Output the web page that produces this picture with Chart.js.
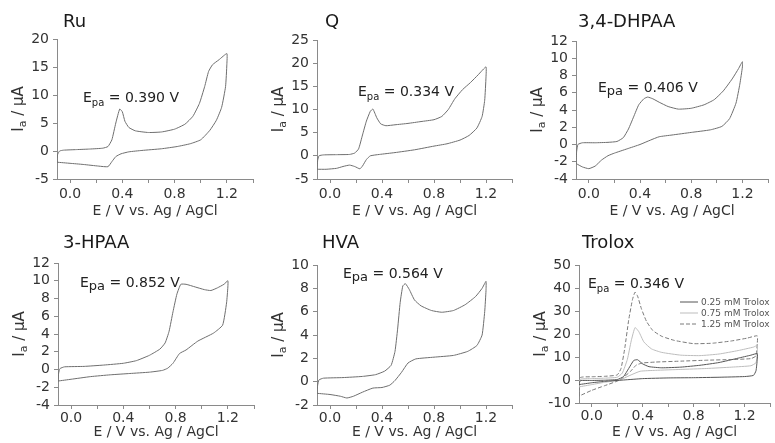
<!DOCTYPE html>
<html>
<head>
<meta charset="utf-8">
<script src="https://cdn.jsdelivr.net/npm/chart.js@4.4.1/dist/chart.umd.min.js"></script>
<style>
  body { margin: 0; background: #fff; width: 775px; height: 443px; position: relative; overflow: hidden; }
  canvas { position: absolute; }
</style>
</head>
<body>
<canvas id="ru" width="258" height="221" style="left:0;top:0"></canvas>
<canvas id="q" width="258" height="221" style="left:258px;top:0"></canvas>
<canvas id="dhpaa" width="258" height="221" style="left:517px;top:0"></canvas>
<canvas id="hpaa" width="258" height="221" style="left:0;top:222px"></canvas>
<canvas id="hva" width="258" height="221" style="left:258px;top:222px"></canvas>
<canvas id="trolox" width="258" height="221" style="left:517px;top:222px"></canvas>
<script>
// potential axis (V vs Ag/AgCl)
const xTickMarks = [0, 0.2, 0.4, 0.6, 0.8, 1.0, 1.2, 1.4];
const xTickLabels = [0, 0.4, 0.8, 1.2];

// Ru
const ruE = [-0.1, -0.095, -0.08, -0.05, 0.05, 0.15, 0.25, 0.29, 0.32, 0.35, 0.38, 0.40, 0.42, 0.45, 0.5, 0.6, 0.7, 0.8, 0.88, 0.94, 0.99, 1.03, 1.06, 1.09, 1.14, 1.2,
             1.2, 1.19, 1.16, 1.12, 1.07, 1.0, 0.92, 0.82, 0.7, 0.55, 0.45, 0.39, 0.35, 0.32, 0.29, 0.22, 0.1, 0.0, -0.1];
const ruI = [-2.0, -0.6, 0.0, 0.15, 0.25, 0.35, 0.5, 0.8, 2.0, 5.0, 7.5, 7.0, 5.3, 4.2, 3.6, 3.3, 3.4, 3.9, 4.8, 6.2, 8.5, 11.5, 14.2, 15.4, 16.3, 17.4,
             15.5, 11.5, 7.8, 5.5, 3.7, 2.0, 1.3, 0.8, 0.4, 0.1, -0.15, -0.5, -1.0, -1.9, -2.8, -2.7, -2.4, -2.2, -2.0];
const ruTicks = [-5, 0, 5, 10, 15, 20];

// Q
const qE = [-0.1, -0.095, -0.085, -0.05, 0.05, 0.15, 0.19, 0.22, 0.25, 0.28, 0.31, 0.33, 0.36, 0.39, 0.43, 0.5, 0.6, 0.7, 0.8, 0.86, 0.91, 0.96, 1.02, 1.08, 1.14, 1.2,
            1.2, 1.19, 1.17, 1.13, 1.07, 1.0, 0.9, 0.8, 0.65, 0.5, 0.38, 0.31, 0.28, 0.25, 0.23, 0.19, 0.15, 0.1, 0.05, -0.03, -0.1];
const qI = [-2.9, -1.0, 0.0, 0.2, 0.25, 0.3, 0.6, 1.5, 4.5, 7.5, 9.6, 10.1, 8.2, 6.9, 6.5, 6.7, 7.0, 7.4, 7.8, 8.5, 10.0, 12.3, 14.3, 15.8, 17.5, 19.2,
            17.0, 12.0, 8.5, 6.0, 4.4, 3.4, 2.6, 2.1, 1.3, 0.7, 0.3, 0.0, -0.8, -2.2, -2.8, -2.3, -2.0, -2.3, -2.7, -2.9, -2.9];
const qTicks = [-5, 0, 5, 10, 15, 20, 25];

// 3,4-DHPAA
const dhpaaE = [-0.1, -0.095, -0.085, -0.05, 0.05, 0.15, 0.22, 0.27, 0.31, 0.35, 0.39, 0.43, 0.46, 0.5, 0.55, 0.62, 0.7, 0.8, 0.9, 0.98, 1.05, 1.12, 1.17, 1.2,
                1.2, 1.18, 1.15, 1.1, 1.04, 0.95, 0.8, 0.65, 0.55, 0.48, 0.4, 0.3, 0.2, 0.15, 0.1, 0.05, 0.0, -0.05, -0.1];
const dhpaaI = [-2.2, -0.8, 0.0, 0.2, 0.2, 0.25, 0.35, 0.8, 1.8, 3.2, 4.6, 5.3, 5.5, 5.3, 4.9, 4.4, 4.1, 4.2, 4.6, 5.2, 6.2, 7.6, 8.8, 9.6,
                9.0, 7.0, 4.8, 3.0, 2.1, 1.7, 1.4, 1.1, 0.9, 0.5, 0.0, -0.5, -1.0, -1.3, -1.8, -2.5, -2.8, -2.6, -2.2];
const dhpaaTicks = [-4, -2, 0, 2, 4, 6, 8, 10, 12];

// 3-HPAA
const hpaaE = [-0.1, -0.095, -0.085, -0.05, 0.1, 0.25, 0.4, 0.5, 0.6, 0.68, 0.72, 0.75, 0.78, 0.81, 0.84, 0.88, 0.95, 1.02, 1.07, 1.12, 1.17, 1.2,
               1.2, 1.19, 1.16, 1.09, 0.97, 0.88, 0.83, 0.78, 0.74, 0.7, 0.6, 0.45, 0.3, 0.15, 0.0, -0.1];
const hpaaI = [-1.3, -0.4, 0.1, 0.3, 0.35, 0.5, 0.7, 1.0, 1.6, 2.3, 3.0, 4.3, 6.5, 8.5, 9.6, 9.6, 9.3, 9.0, 8.9, 9.2, 9.6, 10.0,
               9.3, 7.5, 5.0, 4.1, 3.2, 2.2, 1.8, 0.7, 0.15, -0.1, -0.3, -0.45, -0.6, -0.8, -1.1, -1.3];
const hpaaTicks = [-4, -2, 0, 2, 4, 6, 8, 10, 12];

// HVA
const hvaE = [-0.1, -0.095, -0.085, -0.05, 0.1, 0.25, 0.35, 0.42, 0.47, 0.5, 0.52, 0.54, 0.56, 0.58, 0.61, 0.65, 0.7, 0.78, 0.86, 0.95, 1.04, 1.12, 1.17, 1.2,
              1.2, 1.19, 1.17, 1.13, 1.06, 0.95, 0.8, 0.66, 0.6, 0.55, 0.5, 0.46, 0.4, 0.33, 0.25, 0.18, 0.13, 0.08, 0.0, -0.1];
const hvaI = [-1.0, -0.3, 0.15, 0.3, 0.35, 0.45, 0.6, 0.9, 1.4, 2.6, 4.5, 6.8, 8.2, 8.4, 7.9, 7.0, 6.5, 6.1, 5.95, 6.1, 6.6, 7.3, 8.0, 8.6,
              7.8, 6.0, 4.0, 3.1, 2.6, 2.25, 2.1, 1.95, 1.6, 0.8, 0.1, -0.3, -0.5, -0.55, -0.9, -1.25, -1.4, -1.25, -1.1, -1.0];
const hvaTicks = [-2, 0, 2, 4, 6, 8, 10];

// Trolox, three concentrations
const troloxLabels = ['0.25 mM Trolox', '0.75 mM Trolox', '1.25 mM Trolox'];
const tr025E = [-0.1, -0.09, 0.0, 0.1, 0.2, 0.25, 0.29, 0.33, 0.36, 0.4, 0.45, 0.55, 0.7, 0.85, 1.0, 1.15, 1.25, 1.3,
                1.3, 1.29, 1.27, 1.2, 1.0, 0.8, 0.6, 0.4, 0.25, 0.1, 0.0, -0.1];
const tr025I = [-2.0, -0.3, -0.2, -0.1, 0.2, 1.5, 5.0, 8.5, 8.8, 7.0, 5.8, 5.3, 5.6, 6.4, 7.6, 9.5, 10.8, 11.5,
                9.0, 4.0, 2.0, 1.5, 1.2, 1.0, 0.9, 0.6, 0.0, -0.6, -1.2, -2.0];
const tr075E = [-0.1, -0.09, 0.0, 0.1, 0.2, 0.24, 0.28, 0.31, 0.34, 0.37, 0.41, 0.47, 0.55, 0.7, 0.85, 1.0, 1.15, 1.27, 1.3,
                1.3, 1.29, 1.25, 1.1, 0.9, 0.7, 0.5, 0.38, 0.3, 0.22, 0.1, 0.0, -0.1];
const tr075I = [-3.0, 0.3, 0.6, 0.8, 1.2, 3.0, 9.0, 17.0, 22.8, 21.0, 16.5, 13.5, 12.0, 10.8, 10.6, 11.3, 12.8, 14.3, 15.0,
                11.5, 7.5, 6.2, 5.6, 5.0, 4.6, 4.2, 3.8, 2.0, 0.0, -1.0, -2.0, -3.0];
const tr125E = [-0.1, -0.09, 0.0, 0.1, 0.2, 0.23, 0.26, 0.29, 0.32, 0.34, 0.36, 0.39, 0.43, 0.48, 0.55, 0.65, 0.8, 0.95, 1.1, 1.22, 1.3,
                1.3, 1.29, 1.25, 1.1, 0.9, 0.7, 0.5, 0.4, 0.35, 0.3, 0.22, 0.1, 0.0, -0.1];
const tr125I = [-7.0, 1.0, 1.4, 1.6, 2.2, 5.0, 14.0, 26.0, 35.0, 38.2, 36.5, 31.0, 25.5, 21.5, 19.0, 17.2, 15.8, 16.0, 17.0, 18.2, 19.2,
                16.0, 10.5, 9.3, 8.9, 8.6, 8.2, 7.8, 7.4, 6.5, 3.5, 0.0, -2.5, -4.5, -7.0];
const troloxTicks = [-10, 0, 10, 20, 30, 40, 50];

const FONT = '"DejaVu Sans", "Liberation Sans", sans-serif';

function pts(E, I) {
  return E.map((e, i) => ({ x: e, y: I[i] }));
}

// text with a subscript part: main + sub + rest
function subText(ctx, x, y, main, sub, rest, size, subSize, subDy, centered) {
  ctx.font = size + 'px ' + FONT;
  const w1 = ctx.measureText(main).width;
  const w3 = ctx.measureText(rest).width;
  ctx.font = subSize + 'px ' + FONT;
  const w2 = ctx.measureText(sub).width;
  let x0 = centered ? x - (w1 + w2 + w3) / 2 : x;
  ctx.font = size + 'px ' + FONT;
  ctx.fillText(main, x0, y);
  ctx.font = subSize + 'px ' + FONT;
  ctx.fillText(sub, x0 + w1, y + subDy);
  ctx.font = size + 'px ' + FONT;
  ctx.fillText(rest, x0 + w1 + w2, y);
}

const panelText = {
  id: 'panelText',
  afterDraw(chart, args, o) {
    const ctx = chart.ctx, a = chart.chartArea;
    ctx.save();
    ctx.fillStyle = '#1a1a1a';
    ctx.textAlign = 'left';
    ctx.textBaseline = 'alphabetic';
    ctx.font = '18px ' + FONT;
    ctx.fillText(o.title, o.titleX, o.titleY);

    // y axis title, rotated
    ctx.save();
    ctx.translate(a.left - 39, (a.top + a.bottom) / 2);
    ctx.rotate(-Math.PI / 2);
    ctx.fillStyle = '#333';
    subText(ctx, 0, 5, 'I', 'a', ' / \u03bcA', 15, 11, 3, true);
    ctx.restore();

    // peak potential note
    ctx.fillStyle = '#222';
    subText(ctx, o.noteX, o.noteY, 'E', 'pa', ' = ' + o.note, 14, o.subSize, o.subDy, false);

    if (o.legend) {
      ctx.font = '9px ' + FONT;
      chart.data.datasets.forEach((ds, i) => {
        const y = o.legendY + i * 11;
        ctx.strokeStyle = ds.borderColor;
        ctx.lineWidth = 1;
        ctx.setLineDash(ds.borderDash || []);
        ctx.beginPath();
        ctx.moveTo(o.legendX, y);
        ctx.lineTo(o.legendX + 18, y);
        ctx.stroke();
        ctx.setLineDash([]);
        ctx.fillStyle = '#555';
        ctx.fillText(ds.label, o.legendX + 21, y + 3);
      });
    }
    ctx.restore();
  }
};

function makePanel(id, datasets, yTicks, box, text) {
  const ctx = document.getElementById(id).getContext('2d');
  return new Chart(ctx, {
    type: 'scatter',
    data: { datasets: datasets },
    plugins: [panelText],
    options: {
      responsive: false,
      animation: false,
      devicePixelRatio: 1,
      layout: { padding: { left: 0, top: box.top, right: box.right, bottom: 0 } },
      elements: { point: { radius: 0 }, line: { tension: 0.15, borderWidth: 1 } },
      plugins: {
        legend: { display: false },
        tooltip: { enabled: false },
        panelText: text
      },
      scales: {
        x: {
          type: 'linear',
          min: -0.1,
          max: 1.4,
          afterBuildTicks: s => { s.ticks = xTickMarks.map(v => ({ value: v })); },
          afterFit: s => { s.height = box.xh; },
          ticks: {
            color: '#333',
            font: { family: FONT, size: 14 },
            padding: box.tp,
            maxRotation: 0,
            autoSkip: false,
            callback: v => xTickLabels.some(t => Math.abs(t - v) < 1e-6) ? v.toFixed(1) : ''
          },
          grid: { drawOnChartArea: false, tickLength: 4, color: '#8a8a8a' },
          border: { color: '#8a8a8a' },
          title: {
            display: true,
            text: 'E / V vs. Ag / AgCl',
            color: '#333',
            font: { family: FONT, size: 14 },
            padding: { top: 0, bottom: box.tb }
          }
        },
        y: {
          type: 'linear',
          min: yTicks[0],
          max: yTicks[yTicks.length - 1],
          afterBuildTicks: s => { s.ticks = yTicks.map(v => ({ value: v })); },
          afterFit: s => { s.width = box.left; },
          ticks: { color: '#333', font: { family: FONT, size: 14 }, padding: 4, autoSkip: false },
          grid: { drawOnChartArea: false, tickLength: 4, color: '#8a8a8a' },
          border: { color: '#8a8a8a' }
        }
      }
    }
  });
}

function cv(label, E, I, color, dash) {
  return { label: label, data: pts(E, I), showLine: true, borderColor: color, borderWidth: 1, borderDash: dash || [] };
}

const lineColor = '#6e6e6e';
const row1 = (left, top, right) => ({ left, top, right, xh: 42, tp: 3, tb: 1 });
const row2 = (left, top, right, xh) => ({ left, top, right, xh, tp: 1, tb: 2 });

makePanel('ru', [cv('Ru', ruE, ruI, lineColor)], ruTicks, row1(57, 39, 5),
  { title: 'Ru', titleX: 63, titleY: 27, note: '0.390 V', noteX: 83, noteY: 102, subSize: 10, subDy: 4 });
makePanel('q', [cv('Q', qE, qI, lineColor)], qTicks, row1(59, 40, 4),
  { title: 'Q', titleX: 67, titleY: 27, note: '0.334 V', noteX: 100, noteY: 96, subSize: 10, subDy: 4 });
makePanel('dhpaa', [cv('3,4-DHPAA', dhpaaE, dhpaaI, lineColor)], dhpaaTicks, row1(59, 41, 7),
  { title: '3,4-DHPAA', titleX: 61, titleY: 27, note: '0.406 V', noteX: 81, noteY: 92, subSize: 13, subDy: 3 });
makePanel('hpaa', [cv('3-HPAA', hpaaE, hpaaI, lineColor)], hpaaTicks, row2(58, 41, 4, 38),
  { title: '3-HPAA', titleX: 63, titleY: 26, note: '0.852 V', noteX: 80, noteY: 65, subSize: 13, subDy: 3 });
makePanel('hva', [cv('HVA', hvaE, hvaI, lineColor)], hvaTicks, row2(59, 43, 4, 38),
  { title: 'HVA', titleX: 64, titleY: 26, note: '0.564 V', noteX: 85, noteY: 56, subSize: 13, subDy: 3 });
makePanel('trolox', [
    cv(troloxLabels[0], tr025E, tr025I, '#555555'),
    cv(troloxLabels[1], tr075E, tr075I, '#bdbdbd'),
    cv(troloxLabels[2], tr125E, tr125I, '#7a7a7a', [4, 2])
  ], troloxTicks, row2(62, 43, 5, 40),
  { title: 'Trolox', titleX: 65, titleY: 26, note: '0.346 V', noteX: 71, noteY: 66, subSize: 10, subDy: 4,
    legend: true, legendX: 163, legendY: 80 });
</script>
</body>
</html>
